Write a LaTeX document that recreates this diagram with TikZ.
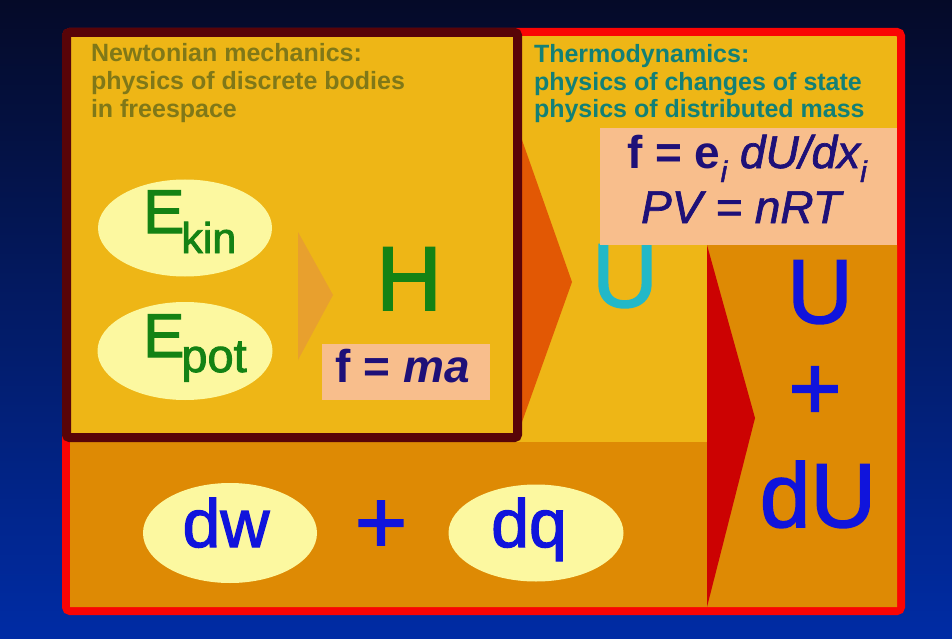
\documentclass[tikz,border=0pt]{standalone}
\usepackage{fontspec}
\setmainfont{Liberation Sans}
\newfontface\heavy[FakeBold=1.8]{Liberation Sans}
\newfontface\heavyit[FakeBold=1.5]{Liberation Sans Italic}
\usetikzlibrary{shapes.geometric}
\definecolor{bgtop}{RGB}{5,10,40}
\definecolor{bgbot}{RGB}{0,44,165}
\definecolor{yel}{RGB}{238,182,22}
\definecolor{dorange}{RGB}{222,138,4}
\definecolor{rborder}{RGB}{250,4,4}
\definecolor{maroon}{RGB}{88,4,8}
\definecolor{orred}{RGB}{226,88,4}
\definecolor{redtri}{RGB}{204,2,2}
\definecolor{lorange}{RGB}{232,160,46}
\definecolor{peach}{RGB}{248,190,140}
\definecolor{lyel}{RGB}{252,248,160}
\definecolor{grn}{RGB}{20,130,20}
\definecolor{navy}{RGB}{30,16,120}
\definecolor{blu}{RGB}{16,20,220}
\definecolor{cyn}{RGB}{34,184,200}
\definecolor{olv}{RGB}{128,120,24}
\definecolor{tel}{RGB}{18,128,118}
\newcommand{\myfs}[1]{\fontsize{#1}{#1}\selectfont}
\begin{document}
\begin{tikzpicture}[x=1pt,y=-1pt,
  txt/.style={inner sep=0pt, outer sep=0pt},
  oval/.style={ellipse, fill=lyel, inner sep=0pt},
  head/.style={txt, anchor=base west, font=\myfs{25}\bfseries},
  big/.style={txt, font=\myfs{91}\heavy}]
\useasboundingbox (0,0) rectangle (952,639);
\shade[top color=bgtop, bottom color=bgbot] (0,0) rectangle (952,639);
% outer red frame
\draw[rborder, line width=8pt, fill=yel, rounded corners=4pt] (66,32) rectangle (901,611);
% darker orange region
\fill[dorange] (70,442) -- (707,442) -- (707,245) -- (897,245) -- (897,607) -- (70,607) -- cycle;
% red arrow
\fill[redtri] (707,245) -- (755,418) -- (707,607) -- cycle;
% orange-red arrow
\fill[orred] (522,140) -- (572,282) -- (522,422) -- cycle;
% Newtonian box
\draw[maroon, line width=9pt, fill=yel, rounded corners=3pt] (66.5,32.5) rectangle (517.5,437.5);
% inner arrow
\fill[lorange] (298,232) -- (333,295) -- (298,360) -- cycle;
% headings
\node[head, text=olv] (n1) at (91,62) {Newtonian mechanics:};
\node[head, text=olv] (n2) at (91,90) {physics of discrete bodies};
\node[head, text=olv] (n3) at (91,118) {in freespace};
\node[head, text=tel] (t1) at (534,63) {Thermodynamics:};
\node[head, text=tel] (t2) at (534,91) {physics of changes of state};
\node[head, text=tel] (t3) at (534,118) {physics of distributed mass};
% ellipses
\node[oval, minimum width=174pt, minimum height=97pt] (ekin) at (185,228) {};
\node[oval, minimum width=175pt, minimum height=98pt] (epot) at (185,351) {};
\node[oval, minimum width=174pt, minimum height=100pt] (dwo) at (230,533) {};
\node[oval, minimum width=175pt, minimum height=97pt] (dqo) at (536,533) {};
\node[txt, anchor=base west, text=grn] (ekint) at (143,233) {\heavy\myfs{62}E\kern-3pt\raisebox{-20pt}{\myfs{43}kin}};
\node[txt, anchor=base west, text=grn] (epott) at (143,357) {\heavy\myfs{62}E\kern-3pt\raisebox{-15pt}{\myfs{47}pot}};
% H and f = ma
\node[big, anchor=base, text=grn] (H) at (409,310) {H};
\fill[peach] (322,344) rectangle (490,400);
\node[txt, anchor=base, text=navy, font=\myfs{46}\bfseries] (fma) at (403,382) {f = \itshape ma};
% thermodynamics U and formula box
\node[big, anchor=base, text=cyn] (Uc) at (625,307) {U};
\fill[peach] (600,128) rectangle (897,245);
\node[txt, anchor=base, text=navy, font=\myfs{46}] (f1) at (747,168) {{\bfseries f = e}\raisebox{-14pt}{\myfs{30}\heavyit i} {\heavyit dU/dx}\raisebox{-14pt}{\myfs{30}\heavyit i}};
\node[txt, anchor=base, text=navy, font=\myfs{46}\heavyit] (f2) at (741,223) {PV = nRT};
% right column
\node[big, anchor=base, text=blu] (Ub) at (820,323) {U};
\node[big, anchor=center, text=blu] (pr) at (815,393) {+};
\node[big, anchor=base, text=blu] (dU) at (818,527) {dU};
% bottom row
\node[txt, anchor=base, text=blu, font=\myfs{68}\heavy] (dw) at (226,547) {dw};
\node[big, anchor=center, text=blu, font=\myfs{90}\heavy] (pb) at (381,527) {+};
\node[txt, anchor=base, text=blu, font=\myfs{68}\heavy] (dq) at (529,547) {dq};
\end{tikzpicture}
\end{document}
